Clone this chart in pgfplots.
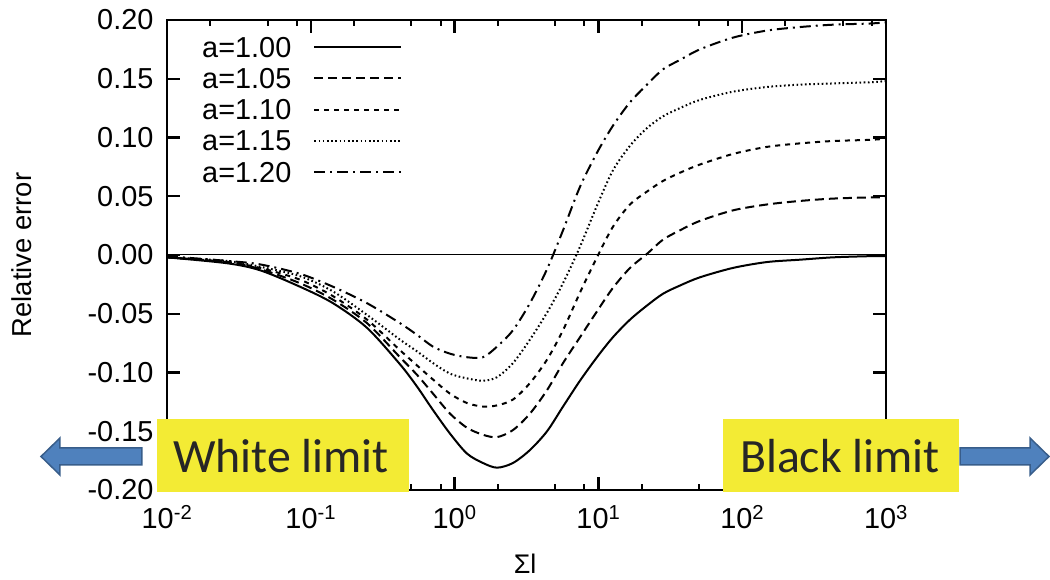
\documentclass[border=0pt]{standalone}
\usepackage{fontspec}
\setmainfont{Liberation Sans}
\newfontfamily\calibri{Carlito}
\usepackage{pgfplots}
\usepackage{pgfplotstable}
\pgfplotsset{compat=1.18}

\definecolor{hiyellow}{RGB}{243,235,52}
\definecolor{arrowblue}{RGB}{79,129,189}
\definecolor{arrowedge}{RGB}{56,93,138}
\definecolor{boxtext}{RGB}{38,38,38}

% relative error versus Sigma l for several values of a
\pgfplotstableread{
x       a100    a105    a110    a115    a120
0.0100  -0.002  -0.002  -0.002  -0.002  -0.001
0.0261  -0.007  -0.006  -0.006  -0.005  -0.005
0.0444  -0.013  -0.012  -0.011  -0.010  -0.008
0.0841  -0.027  -0.024  -0.021  -0.018  -0.016
0.1426  -0.041  -0.038  -0.035  -0.031  -0.027
0.246   -0.062  -0.058  -0.055  -0.051  -0.041
0.417   -0.093  -0.087  -0.081  -0.072  -0.058
0.548   -0.112  -0.102  -0.094  -0.082  -0.068
0.708   -0.132  -0.118  -0.106  -0.092  -0.078
0.929   -0.152  -0.135  -0.118  -0.101  -0.084
1.219   -0.169  -0.147  -0.126  -0.105  -0.087
1.574   -0.177  -0.153  -0.129  -0.107  -0.087
1.972   -0.181  -0.155  -0.128  -0.104  -0.078
2.547   -0.177  -0.149  -0.123  -0.092  -0.064
3.342   -0.166  -0.135  -0.109  -0.072  -0.041
4.395   -0.150  -0.115  -0.089  -0.049  -0.012
5.675   -0.129  -0.092  -0.064  -0.024   0.021
7.447   -0.107  -0.070  -0.032   0.007   0.058
9.772   -0.087  -0.048  -0.002   0.042   0.087
12.62   -0.070  -0.028   0.024   0.072   0.110
16.60   -0.055  -0.011   0.043   0.093   0.130
21.78   -0.043   0.001   0.054   0.108   0.145
28.12   -0.033   0.013   0.063   0.118   0.158
36.90   -0.026   0.021   0.070   0.125   0.166
50.8    -0.019   0.029   0.077   0.132   0.175
86.3    -0.011   0.038   0.086   0.139   0.185
148.6   -0.006   0.043   0.092   0.143   0.191
252.4   -0.004   0.046   0.095   0.145   0.194
427.6   -0.002   0.048   0.097   0.146   0.196
774.5   -0.001   0.049   0.098   0.147   0.197
1000    -0.001   0.049   0.099   0.148   0.198
}\errtable

\begin{document}
\begin{tikzpicture}[x=1bp,y=1bp]
\useasboundingbox (-167,-90) rectangle (883,490);
\begin{axis}[
  at={(0,0)}, anchor=south west,
  scale only axis, width=719bp, height=470bp,
  xmode=log, xmin=0.01, xmax=1000, ymin=-0.2, ymax=0.2,
  axis line style={line width=2.4bp},
  tick align=inside,
  major tick length=13bp, minor tick length=6bp,
  major tick style={black, line width=2.4bp},
  minor tick style={black, line width=2bp},
  xtick={0.01,0.1,1,10,100,1000},
  xticklabels={10\textsuperscript{-2},10\textsuperscript{-1},10\textsuperscript{0},10\textsuperscript{1},10\textsuperscript{2},10\textsuperscript{3}},
  minor xtick={0.02,0.05,0.08,0.2,0.5,0.8,2,5,8,20,50,80,200,500,800},
  ytick={-0.2,-0.15,-0.1,-0.05,0,0.05,0.1,0.15,0.2},
  yticklabels={-0.20,-0.15,-0.10,-0.05,0.00,0.05,0.10,0.15,0.20},
  ticklabel style={font=\fontsize{29}{33}\selectfont},
  xticklabel style={yshift=-12bp},
  yticklabel style={xshift=-10bp},
  xlabel={Σl}, ylabel={Relative error},
  every axis x label/.style={at={(axis description cs:0.498,-0.157)}, anchor=center, font=\fontsize{27}{31}\selectfont},
  every axis y label/.style={at={(axis description cs:-0.2017,0.5)}, rotate=90, anchor=center, font=\fontsize{27.5}{31}\selectfont},
  legend style={at={(axis description cs:0.0459,0.968)}, anchor=north west, draw=none, fill=none,
    inner sep=0bp, row sep=7.25bp, font=\fontsize{29}{33}\selectfont,
    nodes={inner sep=2bp, text height=20bp, text depth=0bp},
    /tikz/every odd column/.append style={column sep=20bp}},
  legend plot pos=right,
  legend cell align=left,
  legend image code/.code={\draw[#1] (0bp,0bp) -- (87bp,0bp);},
]
\addplot[black, line width=1bp, forget plot] coordinates {(0.01,0) (1000,0)};
\addplot[black, line width=2bp, smooth] table[x=x, y=a100] {\errtable};
\addlegendentry{a=1.00}
\addplot[black, line width=2bp, smooth, dash pattern=on 9bp off 5bp] table[x=x, y=a105] {\errtable};
\addlegendentry{a=1.05}
\addplot[black, line width=2bp, smooth, dash pattern=on 5bp off 5bp] table[x=x, y=a110] {\errtable};
\addlegendentry{a=1.10}
\addplot[black, line width=2bp, smooth, dash pattern=on 1.6bp off 2.6bp] table[x=x, y=a115] {\errtable};
\addlegendentry{a=1.15}
\addplot[black, line width=2bp, smooth, dash pattern=on 11bp off 5bp on 2bp off 5bp] table[x=x, y=a120] {\errtable};
\addlegendentry{a=1.20}
\end{axis}
% highlighted limits with arrows
\fill[hiyellow] (-10,-2) rectangle (242,71);
\fill[hiyellow] (556,-2) rectangle (792,71);
\node[anchor=base, text=boxtext, font=\calibri\fontsize{48}{56}\selectfont, inner sep=0] at (114,17) {White limit};
\node[anchor=base, text=boxtext, font=\calibri\fontsize{48}{56}\selectfont, inner sep=0] at (673,17) {Black limit};
\filldraw[fill=arrowblue, draw=arrowedge, line width=1.5bp, line join=miter]
  (-25,42) -- (-107,42) -- (-107,52) -- (-126,33.5) -- (-107,15) -- (-107,25) -- (-25,25) -- cycle;
\filldraw[fill=arrowblue, draw=arrowedge, line width=1.5bp, line join=miter]
  (793,42) -- (863,42) -- (863,52) -- (882,33.5) -- (863,15) -- (863,25) -- (793,25) -- cycle;
\end{tikzpicture}
\end{document}
